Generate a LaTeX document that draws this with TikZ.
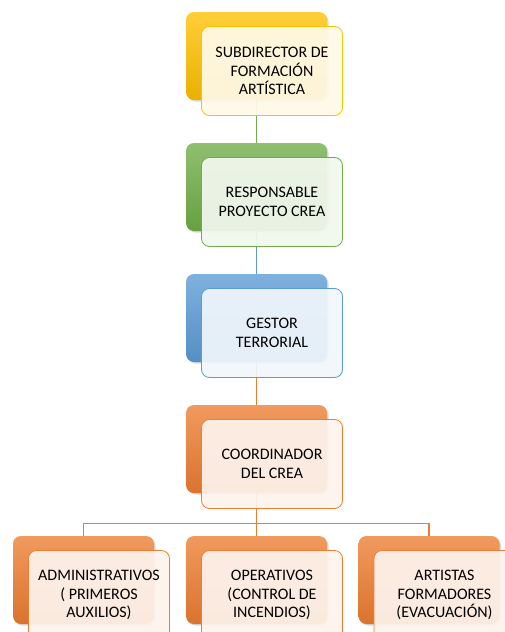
\documentclass[tikz,border=0pt]{standalone}
\usepackage{fontspec}
\setmainfont{Carlito}
\usetikzlibrary{positioning,shadows}
\definecolor{gold}{HTML}{FFC000}
\definecolor{grn}{HTML}{70AD47}
\definecolor{blu}{HTML}{5B9BD5}
\definecolor{org}{HTML}{ED7D31}
\tikzset{node distance=131pt, auto,
  back/.style={rounded corners=8pt, minimum width=141pt, minimum height=88pt,
    top color=#1!78!white, bottom color=#1!92!black,
    drop shadow={shadow xshift=1.5pt, shadow yshift=-1.5pt, opacity=0.3}},
  front/.style={draw=#1, line width=0.8pt, fill=#1!9!white, fill opacity=0.93,
    text opacity=1, rounded corners=8pt, minimum width=141pt, minimum height=89pt,
    align=center, font=\fontsize{16}{18.5}\selectfont},
  link/.style={draw=#1, line width=1.2pt}}
\begin{document}
\begin{tikzpicture}
              \useasboundingbox (0,0) rectangle (505pt,-632pt);
              \clip (0,0) rectangle (505pt,-632pt);

              \node[back=gold] (sub) at (256.5pt,-56pt) {};
              \node[back=grn] (resp) [below of=sub] {};
              \node[back=blu] (gest) [below of=resp] {};
              \node[back=org] (coord) [below of=gest] {};
              \node[back=org] (oper) [below of=coord] {};
              \node[back=org] (admin) [left of=oper, node distance=173pt] {};
              \node[back=org] (art) [right of=oper, node distance=172.5pt] {};
              \coordinate[below=30pt of coord.south] (bus);

              \draw[link=grn] (sub) -- (resp);
              \draw[link=blu] (resp) -- (gest);
              \draw[link=org] (gest) -- (coord);
              \draw[link=org] (coord) -- (bus) -| (admin);
              \draw[link=org] (bus) -| (art);
              \draw[link=org] (bus) -- (oper);

              \node[front=gold] (subT) at (sub) [xshift=15.5pt, yshift=-15pt] {SUBDIRECTOR DE\\FORMACIÓN\\ARTÍSTICA};
              \node[front=grn] (respT) at (resp) [xshift=15.5pt, yshift=-15pt] {RESPONSABLE\\PROYECTO CREA};
              \node[front=blu] (gestT) at (gest) [xshift=15.5pt, yshift=-15pt] {GESTOR\\TERRORIAL};
              \node[front=org] (coordT) at (coord) [xshift=15.5pt, yshift=-15pt] {COORDINADOR\\DEL CREA};
              \node[front=org] (adminT) at (admin) [xshift=15.5pt, yshift=-15pt] {ADMINISTRATIVOS\\( PRIMEROS\\AUXILIOS)};
              \node[front=org] (operT) at (oper) [xshift=15.5pt, yshift=-15pt] {OPERATIVOS\\(CONTROL DE\\INCENDIOS)};
              \node[front=org] (artT) at (art) [xshift=15.5pt, yshift=-15pt] {ARTISTAS\\FORMADORES\\(EVACUACIÓN)};
            \end{tikzpicture}
\end{document}
